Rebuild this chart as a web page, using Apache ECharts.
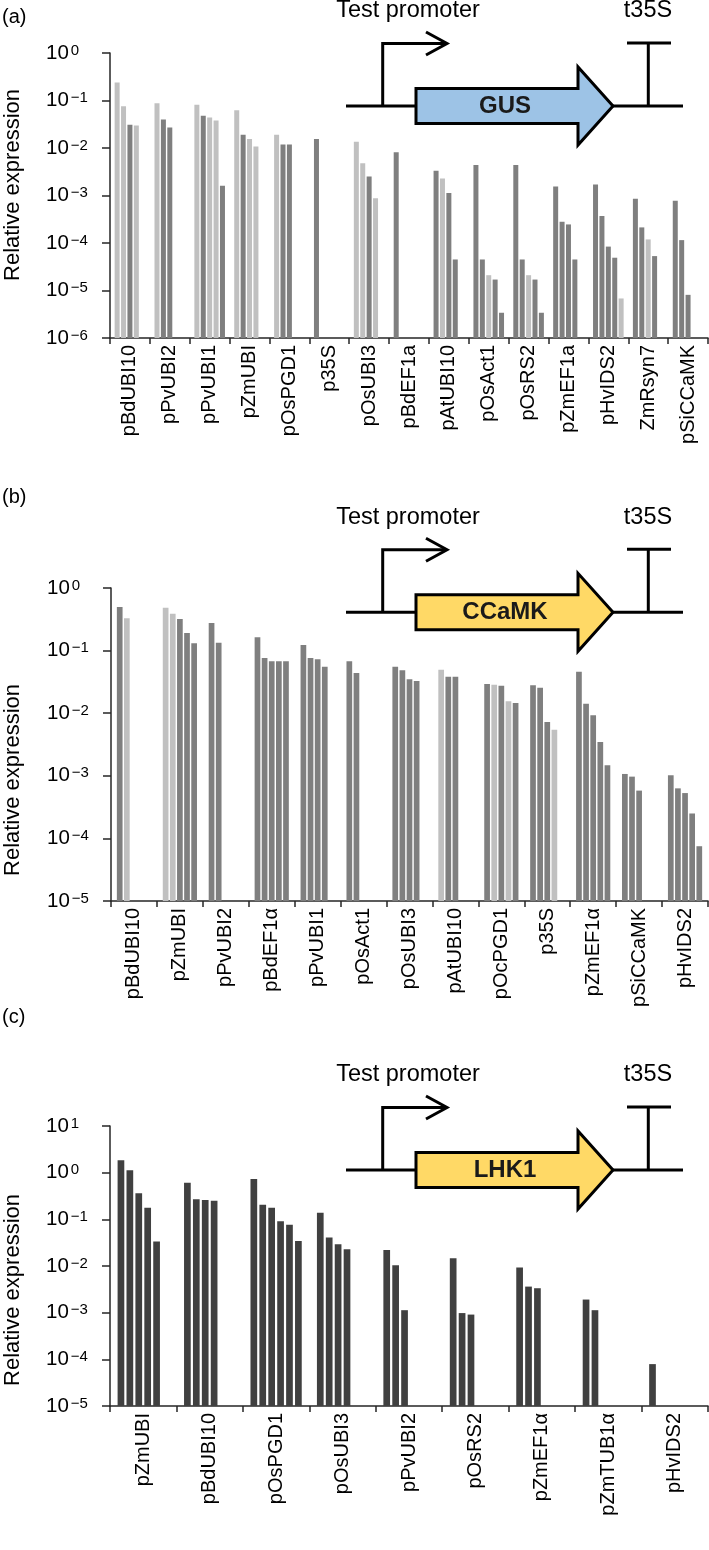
<!DOCTYPE html>
<html><head><meta charset="utf-8">
<script src="https://cdn.jsdelivr.net/npm/echarts@6/dist/echarts.min.js"></script>
<style>html,body{margin:0;padding:0;background:#fff}#c{width:709px;height:1550px}</style>
</head><body><div id="c"></div>
<script>
// ---- Panel (a): GUS ----
const catsA = ['pBdUBI10','pPvUBI2','pPvUBI1','pZmUBI','pOsPGD1','p35S','pOsUBI3','pBdEF1a','pAtUBI10','pOsAct1','pOsRS2','pZmEF1a','pHvIDS2','ZmRsyn7','pSiCCaMK'];
const valsA = [
  [0.24,0.076,0.031,0.0296],
  [0.088,0.040,0.027],
  [0.081,0.048,0.044,0.038,0.0016],
  [0.062,0.019,0.0154,0.0107],
  [0.019,0.0119,0.0119],
  [0.0154],
  [0.0136,0.0048,0.0025,0.00087],
  [0.0081],
  [0.0033,0.00228,0.00113,0.000045],
  [0.0044,0.000045,0.000021,0.000017,0.0000034],
  [0.0044,0.000045,0.000021,0.000017,0.0000034],
  [0.00154,0.00028,0.000246,0.000045],
  [0.0017,0.00037,0.000084,0.000049,0.0000068],
  [0.00085,0.000213,0.000119,0.000053],
  [0.00078,0.000115,0.0000081]
];
// sample kind per bar: 1 = light-grey group, 0 = dark-grey group
const kindA = [
  [1,1,0,1],[1,0,0],[1,0,1,1,0],[1,0,1,1],[1,0,0],[0],[1,1,0,1],[0],
  [0,1,0,0],[0,0,1,0,0],[0,0,1,0,0],[0,0,0,0],[0,0,0,0,1],[0,0,1,0],[0,0,0]
];
// ---- Panel (b): CCaMK ----
const catsB = ['pBdUBI10','pZmUBI','pPvUBI2','pBdEF1α','pPvUBI1','pOsAct1','pOsUBI3','pAtUBI10','pOcPGD1','p35S','pZmEF1α','pSiCCaMK','pHvIDS2'];
const valsB = [
  [0.497,0.328],
  [0.485,0.389,0.32,0.191,0.131],
  [0.276,0.134],
  [0.163,0.076,0.0675,0.0675,0.0675],
  [0.123,0.076,0.073,0.055],
  [0.0675,0.0439],
  [0.0553,0.0484,0.0348,0.0327],
  [0.0495,0.0383,0.0383],
  [0.0293,0.0285,0.0275,0.0155,0.0146],
  [0.0279,0.0255,0.00723,0.00545],
  [0.046,0.0142,0.00925,0.00347,0.00147],
  [0.00107,0.00097,0.00058],
  [0.00102,0.00063,0.00053,0.00025,0.000075]
];
const kindB = [
  [0,1],[1,1,0,0,0],[0,0],[0,0,0,0,0],[0,0,0,0],[0,0],[0,0,0,0],[1,0,0],
  [0,1,0,1,0],[0,0,0,1],[0,0,0,0,0],[0,0,0],[0,0,0,0,0]
];
// ---- Panel (c): LHK1 ----
const catsC = ['pZmUBI','pBdUBI10','pOsPGD1','pOsUBI3','pPvUBI2','pOsRS2','pZmEF1α','pZmTUB1α','pHvIDS2'];
const valsC = [
  [1.84,1.12,0.361,0.178,0.0333],
  [0.61,0.269,0.26,0.251],
  [0.733,0.206,0.178,0.091,0.077,0.0345],
  [0.139,0.041,0.0293,0.0229],
  [0.0221,0.0104,0.00113],
  [0.0147,0.00098,0.00091],
  [0.00924,0.00362,0.00334],
  [0.00191,0.00113],
  [0.000079]
];
const yMinA = 1e-6, yMaxA = 1;
const yMinB = 1e-5, yMaxB = 1;
const yMinC = 1e-5, yMaxC = 10;

const FONT = '"Liberation Sans", Arial, sans-serif';
const DARK = '#7f7f7f', LIGHT = '#c0c0c0', DARKC = '#404040';
const AXC = '#262626';

const panels = [
  {cats: catsA, vals: valsA, kind: kindA, min: yMinA, max: yMaxA, grid: {left:110, top:53, width:598, height:285}, bw:5, gap:'28%'},
  {cats: catsB, vals: valsB, kind: kindB, min: yMinB, max: yMaxB, grid: {left:111, top:588, width:597, height:313}, bw:5.7, gap:'25%'},
  {cats: catsC, vals: valsC, kind: null, min: yMinC, max: yMaxC, grid: {left:110, top:1126, width:598, height:280}, bw:6.7, gap:'33%'}
];

function expLabel(v){
  const e = Math.round(Math.log10(v));
  const s = e < 0 ? '−' + (-e) : '' + e;
  return '{b|10}{s|' + s + '}';
}

const grids = [], xAxes = [], yAxes = [], series = [];
panels.forEach((p, pi) => {
  grids.push(Object.assign({containLabel:false}, p.grid));
  xAxes.push({
    type:'category', gridIndex:pi, data:p.cats,
    axisLine:{show:true, lineStyle:{color:AXC, width:1.5}},
    axisTick:{show:true, length:6, lineStyle:{color:AXC, width:1.5}},
    axisLabel:{rotate:90, interval:0, margin:7, fontSize:20, color:'#000', fontFamily:FONT},
    splitLine:{show:false}
  });
  yAxes.push({
    type:'log', logBase:10, gridIndex:pi, min:p.min, max:p.max, startValue:p.min, interval:1,
    axisLine:{show:true, lineStyle:{color:AXC, width:1.5}},
    axisTick:{show:true, length:8, lineStyle:{color:AXC, width:1.5}},
    splitLine:{show:false},
    axisLabel:{margin:64, align:'left', formatter:expLabel, color:'#000',
      rich:{ b:{fontSize:20.5, fontFamily:FONT, color:'#000', lineHeight:20},
             s:{fontSize:15, fontFamily:FONT, color:'#000', lineHeight:15, verticalAlign:'top', padding:[0,0,0,2]} }}
  });
  const n = Math.max.apply(null, p.vals.map(g => g.length));
  for (let k = 0; k < n; k++) {
    series.push({
      type:'bar', xAxisIndex:pi, yAxisIndex:pi, barWidth:p.bw, barGap:p.gap,
      silent:true,
      data: p.vals.map((g, gi) => {
        if (g[k] == null) return '-';
        let col = DARKC;
        if (p.kind) col = p.kind[gi][k] ? LIGHT : DARK;
        return {value:g[k], itemStyle:{color:col}};
      })
    });
  }
});

// construct diagrams (illustration)
function construct(b, label, fill){
  const ls = {stroke:'#000', lineWidth:3, fill:null};
  return [
    {type:'line', shape:{x1:346, y1:b, x2:683, y2:b}, style:{stroke:'#000', lineWidth:3}},
    {type:'polyline', shape:{points:[[382.7,b],[382.7,b-62.5],[446,b-62.5]]}, style:ls},
    {type:'polyline', shape:{points:[[426,b-74],[447,b-62.5],[426,b-51]]}, style:ls},
    {type:'line', shape:{x1:648.3, y1:b, x2:648.3, y2:b-63}, style:{stroke:'#000', lineWidth:3}},
    {type:'line', shape:{x1:627, y1:b-63, x2:671, y2:b-63}, style:{stroke:'#000', lineWidth:3}},
    {type:'polygon', shape:{points:[[416,b-17.5],[578,b-17.5],[578,b-39],[613,b],[578,b+39],[578,b+17.5],[416,b+17.5]]},
      style:{fill:fill, stroke:'#000', lineWidth:3, lineJoin:'miter'}},
    {type:'text', x:505, y:b, style:{text:label, font:'bold 24px ' + FONT, fill:'#1a1a1a', textAlign:'center', textVerticalAlign:'middle'}},
    {type:'text', x:408, y:b-95, style:{text:'Test promoter', font:'23.5px ' + FONT, fill:'#000', textAlign:'center', textVerticalAlign:'middle'}},
    {type:'text', x:648, y:b-95, style:{text:'t35S', font:'23.5px ' + FONT, fill:'#000', textAlign:'center', textVerticalAlign:'middle'}}
  ];
}
function ytitle(yc){
  return {type:'text', x:13, y:yc, rotation:Math.PI/2,
    style:{text:'Relative expression', font:'22px ' + FONT, fill:'#000', textAlign:'center', textVerticalAlign:'middle'}};
}
function plabel(t, y){
  return {type:'text', x:2, y:y, style:{text:t, font:'20px ' + FONT, fill:'#000', textAlign:'left', textVerticalAlign:'middle'}};
}
const graphic = [].concat(
  construct(106, 'GUS', '#9dc3e6'),
  construct(612.3, 'CCaMK', '#ffd966'),
  construct(1170, 'LHK1', '#ffd966'),
  [ytitle(185), ytitle(780), ytitle(1290), plabel('(a)', 17), plabel('(b)', 497), plabel('(c)', 1017)]
);

const chart = echarts.init(document.getElementById('c'), null, {renderer:'canvas'});
chart.setOption({
  animation:false,
  textStyle:{fontFamily:FONT},
  grid:grids, xAxis:xAxes, yAxis:yAxes, series:series, graphic:graphic
});
</script></body></html>
